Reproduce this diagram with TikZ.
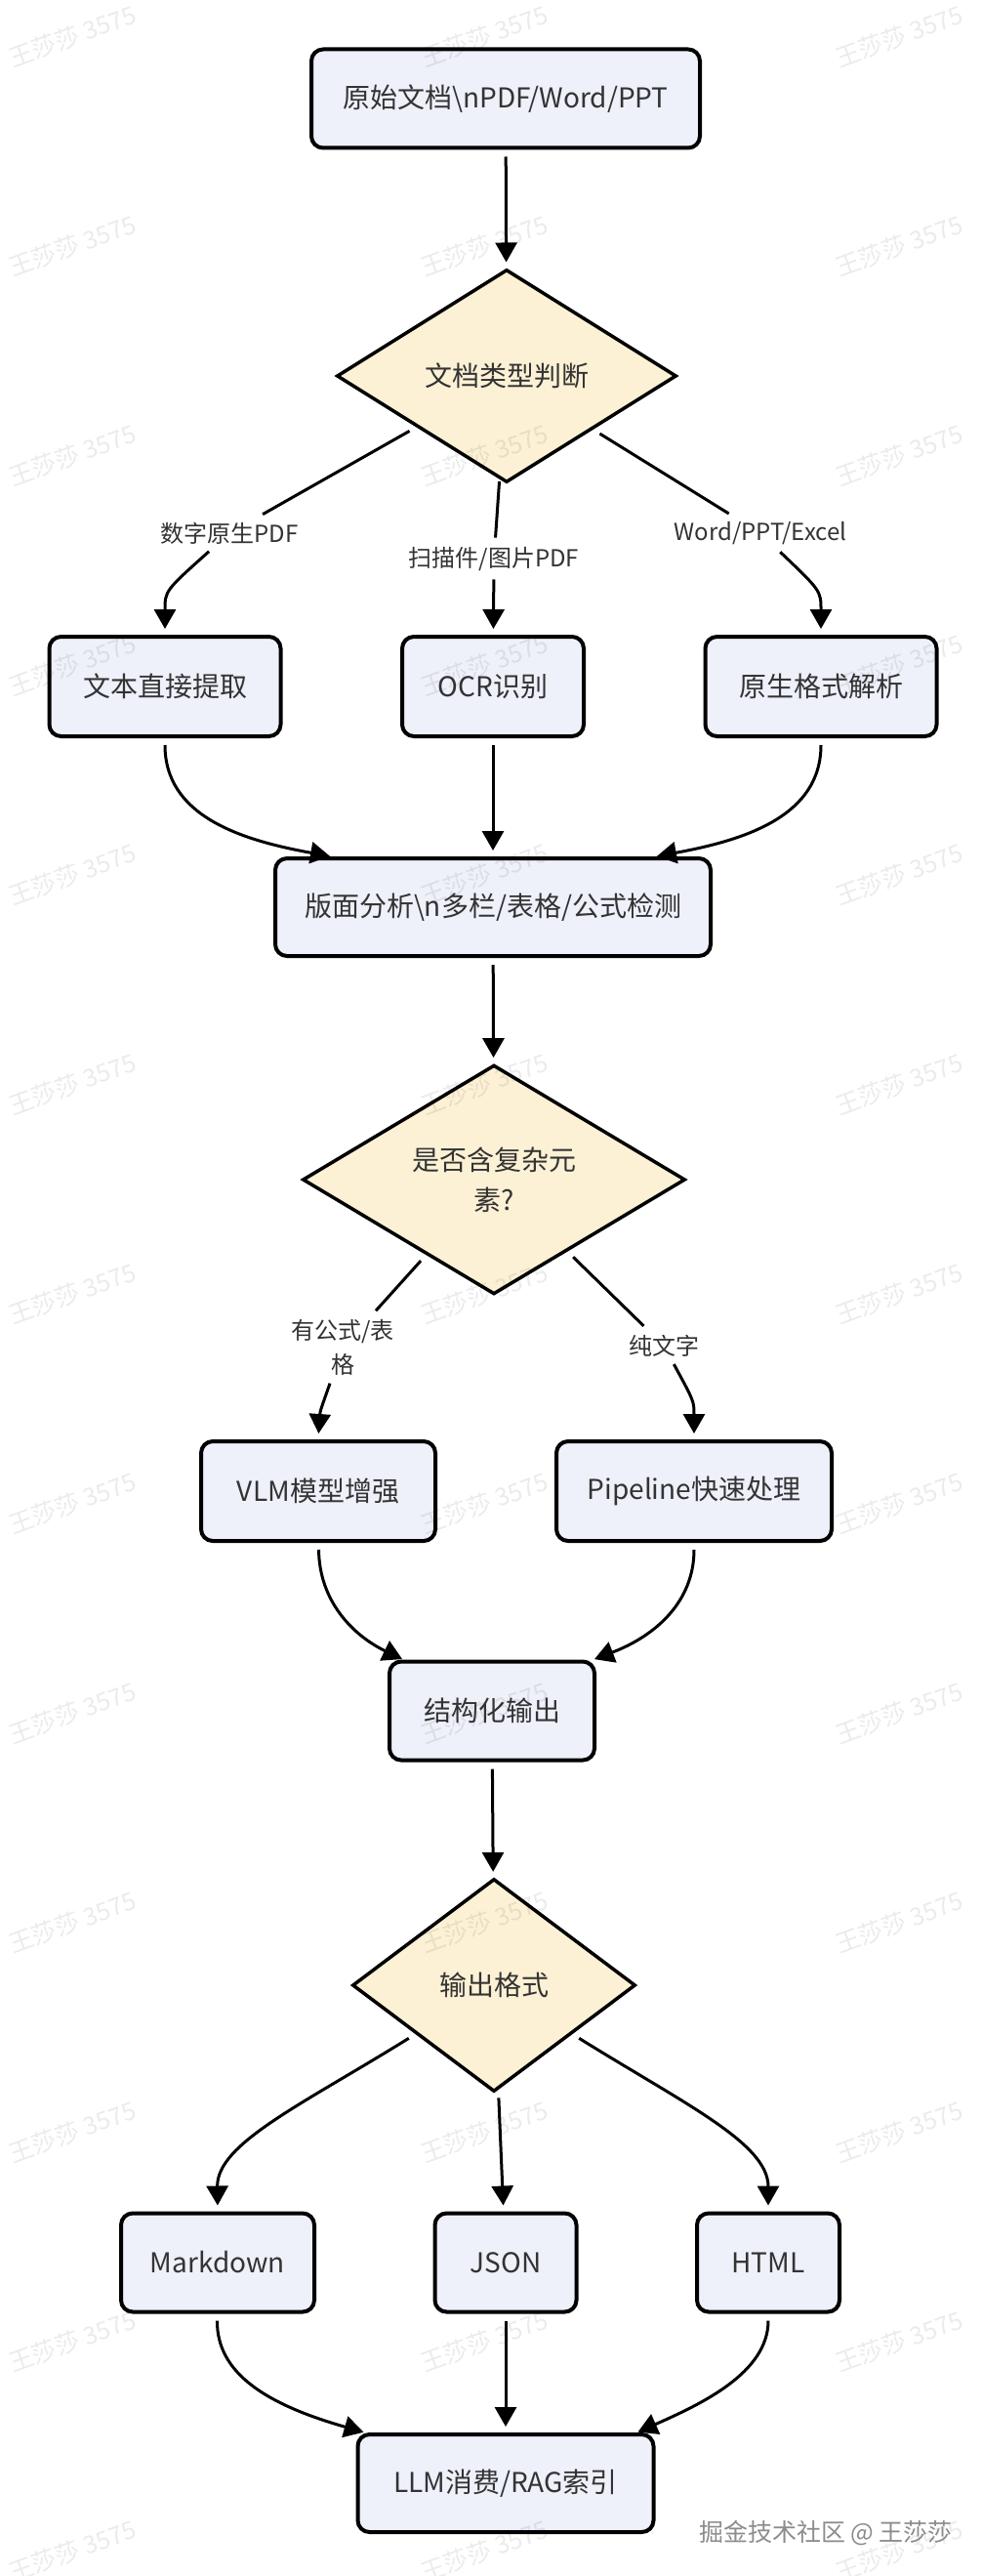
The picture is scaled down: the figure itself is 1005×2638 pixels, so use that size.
\documentclass[tikz,border=0pt]{standalone}
\usepackage{fontspec}
\setmainfont{Noto Sans CJK SC}
\usetikzlibrary{shapes.geometric,arrows.meta,calc}
\definecolor{boxfill}{HTML}{EEF0FA}
\definecolor{diafill}{HTML}{FCF1D5}
\definecolor{txt}{HTML}{333333}
\begin{document}
\begin{tikzpicture}[x=1pt,y=-1pt,
  box/.style={draw=black, line width=4pt, fill=boxfill, rounded corners=12pt, text=txt,
    font=\fontsize{28}{40}\selectfont, inner sep=0pt, align=center},
  dia/.style={diamond, draw=black, line width=3.5pt, fill=diafill, text=txt,
    font=\fontsize{28}{41}\selectfont, inner sep=0pt, align=center},
  lab/.style={text=txt, font=\fontsize{24}{35}\selectfont, inner sep=6pt, align=center},
  edge/.style={line width=3pt, draw=black},
  arr/.style={edge, -{Triangle[length=20pt,width=22pt]}},
  wm/.style={rotate=20, text=black, opacity=0.08, font=\fontsize{25}{25}\selectfont},
]
\fill[white] (0,0) rectangle (1005,2638);
\useasboundingbox (0,0) rectangle (1005,2638);

% nodes
\node[box, minimum width=398pt, minimum height=101pt] (top) at (518,101) {原始文档\textbackslash nPDF/Word/PPT};
\node[dia, minimum width=348pt, minimum height=218pt] (d1) at (519,385) {文档类型判断};
\node[lab] (lA) at (235,546) {数字原生PDF};
\node[lab] (lB) at (506,573) {扫描件/图片PDF};
\node[lab] (lC) at (779,546) {Word/PPT/Excel};
\node[box, minimum width=237pt, minimum height=102pt] (A) at (169,703) {文本直接提取};
\node[box, minimum width=186pt, minimum height=102pt] (B) at (505,703) {OCR识别};
\node[box, minimum width=237pt, minimum height=102pt] (C) at (841,703) {原生格式解析};
\node[box, minimum width=446pt, minimum height=100pt] (L) at (505,929) {版面分析\textbackslash n多栏/表格/公式检测};
\node[dia, minimum width=392pt, minimum height=218pt] (d2) at (506,1208) {是否含复杂元\\素?};
\node[lab] (lV) at (351,1380) {有公式/表\\格};
\node[lab] (lP) at (680,1378) {纯文字};
\node[box, minimum width=240pt, minimum height=102pt] (V) at (326,1527) {VLM模型增强};
\node[box, minimum width=282pt, minimum height=102pt] (P) at (711,1527) {Pipeline快速处理};
\node[box, minimum width=210pt, minimum height=101pt] (S) at (504,1752) {结构化输出};
\node[dia, minimum width=290pt, minimum height=218pt] (d3) at (506,2033) {输出格式};
\node[box, minimum width=198pt, minimum height=101pt] (M) at (223,2317) {Markdown};
\node[box, minimum width=145pt, minimum height=101pt] (J) at (518,2317) {JSON};
\node[box, minimum width=146pt, minimum height=101pt] (H) at (787,2317) {HTML};
\node[box, minimum width=303pt, minimum height=100pt] (R) at (518,2543) {LLM消费/RAG索引};

% edges
\draw[arr, shorten <=7pt, shorten >=6pt] (top) -- (d1);

\draw[edge, shorten <=8pt, shorten >=4pt] (d1) -- (lA);
\draw[arr, shorten <=2pt, shorten >=6pt] (lA) .. controls (169,605) .. (A.north);
\draw[edge, shorten <=2pt, shorten >=4pt] (d1) -- (lB);
\draw[arr, shorten <=2pt, shorten >=6pt] (lB) -- (B);
\draw[edge, shorten <=8pt, shorten >=4pt] (d1) -- (lC);
\draw[arr, shorten <=2pt, shorten >=6pt] (lC) .. controls (841,605) .. (C.north);

\draw[arr, shorten <=7pt, shorten >=1pt] (A) .. controls (169,835) and (245,860) .. ($(L.north west)+(59,0)$);
\draw[arr, shorten <=7pt, shorten >=6pt] (B) -- (L);
\draw[arr, shorten <=7pt, shorten >=1pt] (C) .. controls (841,835) and (765,860) .. ($(L.north east)+(-58,0)$);

\draw[arr, shorten <=7pt, shorten >=6pt] (L) -- (d2);

\draw[edge, shorten <=8pt, shorten >=4pt] (d2) -- (lV);
\draw[arr, shorten <=2pt, shorten >=6pt] (lV) .. controls (328,1445) .. (V.north);
\draw[edge, shorten <=8pt, shorten >=4pt] (d2) -- (lP);
\draw[arr, shorten <=2pt, shorten >=6pt] (lP) .. controls (711,1435) .. (P.north);

\draw[arr, shorten <=7pt, shorten >=1pt] (V) .. controls (327,1640) and (362,1675) .. ($(S.north west)+(16,0)$);
\draw[arr, shorten <=7pt, shorten >=1pt] (P) .. controls (711,1640) and (672,1675) .. ($(S.north east)+(-3,0)$);

\draw[arr, shorten <=7pt, shorten >=6pt] (S) -- (d3);

\draw[arr, shorten <=8pt, shorten >=6pt] (d3) .. controls (310,2155) and (222,2195) .. (M.north);
\draw[arr, shorten <=8pt, shorten >=6pt] (d3) -- (J);
\draw[arr, shorten <=8pt, shorten >=6pt] (d3) .. controls (702,2155) and (787,2195) .. (H.north);

\draw[arr, shorten <=7pt, shorten >=1pt] (M) .. controls (222,2430) and (272,2462) .. ($(R.north west)+(9,0)$);
\draw[arr, shorten <=7pt, shorten >=6pt] (J) -- (R);
\draw[arr, shorten <=7pt, shorten >=1pt] (H) .. controls (787,2430) and (718,2462) .. ($(R.north east)+(-19,0)$);

% watermarks
\foreach \r in {0,...,12} {
  \foreach \c in {74,496,921} {
    \node[wm] at (\c,37+214.6*\r) {王莎莎 3575};
  }
}
\node[text=black!45, font=\fontsize{25}{25}\selectfont, inner sep=0pt] (credit) at (846,2594) {掘金技术社区 @ 王莎莎};
\end{tikzpicture}
\end{document}
